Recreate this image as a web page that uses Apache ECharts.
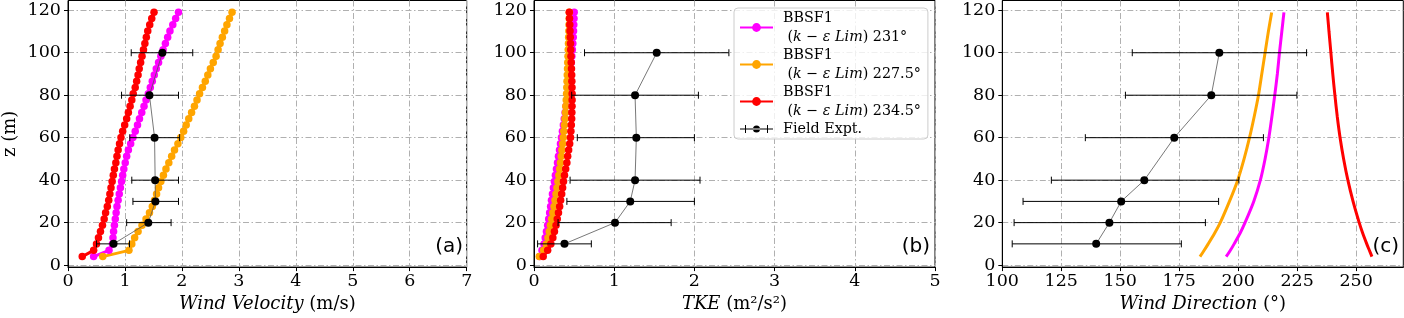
<!DOCTYPE html>
<html><head><meta charset="utf-8">
<script src="https://cdn.jsdelivr.net/npm/echarts@6/dist/echarts.min.js"></script>
<style>html,body{margin:0;padding:0;background:#fff}#c{width:1404px;height:318px}</style>
</head><body><div id="c"></div>
<script>
// ---- data ----
const zLevels = [4.0, 6.95, 9.9, 12.85, 15.8, 18.75, 21.7, 24.65, 27.6, 30.55, 33.5, 36.45, 39.4, 42.35, 45.3, 48.25, 51.2, 54.15, 57.1, 60.05, 63.0, 65.95, 68.9, 71.85, 74.8, 77.75, 80.7, 83.65, 86.6, 89.55, 92.5, 95.45, 98.4, 101.35, 104.3, 107.25, 110.2, 113.15, 116.1, 119.05];
const velMagenta = [0.45,0.72,0.78,0.79,0.80,0.815,0.83,0.845,0.86,0.88,0.90,0.92,0.94,0.96,0.98,1.005,1.03,1.06,1.10,1.14,1.18,1.22,1.255,1.295,1.335,1.37,1.41,1.445,1.48,1.515,1.55,1.59,1.63,1.67,1.71,1.75,1.79,1.84,1.89,1.94];
const velOrange = [0.61,1.07,1.12,1.17,1.23,1.30,1.37,1.43,1.48,1.52,1.555,1.59,1.63,1.675,1.72,1.77,1.82,1.87,1.93,1.98,2.03,2.075,2.12,2.17,2.22,2.265,2.31,2.36,2.41,2.455,2.50,2.55,2.60,2.635,2.67,2.71,2.75,2.79,2.835,2.88];
const velRed = [0.25,0.45,0.50,0.535,0.57,0.605,0.635,0.66,0.69,0.715,0.735,0.755,0.775,0.795,0.815,0.84,0.86,0.88,0.905,0.93,0.96,0.995,1.03,1.06,1.09,1.12,1.145,1.18,1.205,1.23,1.25,1.275,1.30,1.325,1.35,1.375,1.40,1.435,1.47,1.51];
const tkeMagenta = [0.07,0.10,0.125,0.14,0.155,0.17,0.183,0.195,0.207,0.218,0.23,0.242,0.254,0.267,0.28,0.293,0.305,0.318,0.33,0.342,0.354,0.366,0.377,0.388,0.399,0.41,0.42,0.43,0.44,0.449,0.457,0.465,0.472,0.478,0.484,0.489,0.493,0.496,0.499,0.501];
const tkeOrange = [0.066,0.12,0.155,0.175,0.19,0.205,0.22,0.235,0.25,0.262,0.274,0.286,0.298,0.31,0.32,0.33,0.34,0.348,0.357,0.365,0.372,0.379,0.386,0.392,0.397,0.402,0.406,0.409,0.412,0.415,0.418,0.421,0.424,0.427,0.43,0.432,0.435,0.437,0.439,0.441];
const tkeRed = [0.115,0.17,0.21,0.235,0.255,0.275,0.29,0.305,0.32,0.332,0.345,0.357,0.368,0.38,0.395,0.41,0.42,0.432,0.445,0.455,0.46,0.465,0.47,0.472,0.474,0.475,0.475,0.474,0.472,0.47,0.467,0.464,0.461,0.458,0.455,0.452,0.449,0.446,0.443,0.44];
const zCurve = [4, 7, 10, 15, 20, 30, 40, 50, 60, 70, 80, 90, 100, 110, 119];
const dirMagenta = [194.9,196.7,198.3,200.8,202.9,206.6,209.4,211.4,213.0,214.3,215.5,216.6,217.5,218.5,219.4];
const dirOrange = [183.8,185.6,187.3,190.0,192.4,196.3,199.8,202.5,204.8,206.8,208.6,210.0,211.4,212.8,214.2];
const dirRed = [256.7,255.6,254.5,252.8,251.3,248.7,246.5,244.7,243.2,242.0,241.0,240.1,239.3,238.5,237.8];
const zField = [10, 20, 30, 40, 60, 80, 100];
const velField = [0.80, 1.41, 1.535, 1.53, 1.52, 1.43, 1.657];
const velLo = [0.50, 1.03, 1.14, 1.12, 1.085, 0.94, 1.11];
const velHi = [1.08, 1.81, 1.94, 1.94, 1.96, 1.94, 2.19];
const tkeField = [0.38, 1.01, 1.20, 1.26, 1.276, 1.26, 1.53];
const tkeLo = [0.045, 0.30, 0.41, 0.45, 0.54, 0.47, 0.63];
const tkeHi = [0.715, 1.71, 2.0, 2.07, 2.0, 2.05, 2.43];
const dirField = [139.8, 145.4, 150.4, 160.2, 172.9, 188.6, 192.0];
const dirLo = [104.2, 105.0, 108.8, 120.8, 135.2, 152.2, 155.1];
const dirHi = [175.9, 186.1, 191.7, 200.3, 210.7, 224.9, 229.0];
const yTicks = [0, 20, 40, 60, 80, 100, 120];
const xTicksA = [0, 1, 2, 3, 4, 5, 6, 7];
const xTicksB = [0, 1, 2, 3, 4, 5];
const xTicksC = [100, 125, 150, 175, 200, 225, 250];
const legendAngles = ['231', '227.5', '234.5'];
const seriesKeys = ['m', 'o', 'r'];
const colors = {m: '#ff00ff', o: '#ffa500', r: '#ff0000'};

// ---- chart ----
const SERIF = 'DejaVu Serif';
const TICK_FS = 17.5, NAME_FS = 18;
const chart = echarts.init(document.getElementById('c'), null, {renderer: 'canvas'});
const grids = [
  {left: 66.7, top: 0.5, width: 400, height: 267.2},
  {left: 534, top: 0.5, width: 401, height: 267.2},
  {left: 1002.3, top: 0.5, width: 401, height: 267.2}
].map(g => Object.assign({show: true, borderColor: '#000', borderWidth: 1, containLabel: false}, g));

const gridLine = {show: true, lineStyle: {color: '#b0b0b0', width: 1, type: [6, 2.5, 1.5, 2.5]}};
const rich = {
  i: {fontFamily: SERIF, fontStyle: 'italic', fontSize: NAME_FS, color: '#000'},
  n: {fontFamily: SERIF, fontSize: NAME_FS, color: '#000'}
};
function xAx(idx, min, max, ticks, name) {
  return {gridIndex: idx, type: 'value', min, max,
    axisLine: {show: true, onZero: false, lineStyle: {color: '#000'}},
    axisTick: {show: true, length: 4, customValues: ticks, lineStyle: {color: '#000'}},
    axisLabel: {customValues: ticks, margin: 5, fontFamily: SERIF, fontSize: TICK_FS, color: '#000'},
    splitLine: gridLine,
    name, nameLocation: 'middle', nameGap: 27, nameTextStyle: {rich}};
}
function yAx(idx, withName) {
  return {gridIndex: idx, type: 'value', min: -0.94, max: 124.6,
    axisLine: {show: true, onZero: false, lineStyle: {color: '#000'}},
    axisTick: {show: true, length: 4, customValues: yTicks, lineStyle: {color: '#000'}},
    axisLabel: {customValues: yTicks, margin: 7, fontFamily: SERIF, fontSize: TICK_FS, color: '#000'},
    splitLine: gridLine,
    name: withName ? 'z (m)' : '', nameLocation: 'middle', nameGap: 49, nameRotate: 90,
    nameTextStyle: {fontFamily: SERIF, fontSize: NAME_FS, color: '#000'}};
}

function modelSeries(idx, key, xs, zs, sym) {
  return {type: 'line', name: key, xAxisIndex: idx, yAxisIndex: idx,
    data: xs.map((x, i) => [x, zs[i]]),
    symbol: sym ? 'circle' : 'none', showSymbol: sym, symbolSize: 7.5,
    smooth: sym ? false : 0.25,
    lineStyle: {color: colors[key], width: 3}, itemStyle: {color: colors[key]},
    z: 2, animation: false, silent: true};
}
function fieldSeries(idx, xs) {
  return {type: 'line', name: 'Field Expt.', xAxisIndex: idx, yAxisIndex: idx,
    data: xs.map((x, i) => [x, zField[i]]),
    symbol: 'circle', symbolSize: 8,
    lineStyle: {color: '#555', width: 0.8}, itemStyle: {color: '#000'},
    z: 6, animation: false, silent: true};
}
function errSeries(idx, lo, hi) {
  return {type: 'custom', xAxisIndex: idx, yAxisIndex: idx, z: 5, silent: true, animation: false,
    data: zField.map((z, i) => [lo[i], hi[i], z]),
    encode: {x: [0, 1], y: 2},
    renderItem: (params, api) => {
      const a = api.coord([api.value(0), api.value(2)]);
      const b = api.coord([api.value(1), api.value(2)]);
      const h = 3.5, st = {stroke: '#000', lineWidth: 1};
      return {type: 'group', children: [
        {type: 'line', shape: {x1: a[0], y1: a[1], x2: b[0], y2: b[1]}, style: st},
        {type: 'line', shape: {x1: a[0], y1: a[1] - h, x2: a[0], y2: a[1] + h}, style: st},
        {type: 'line', shape: {x1: b[0], y1: b[1] - h, x2: b[0], y2: b[1] + h}, style: st}
      ]};
    }};
}

const velSets = {m: velMagenta, o: velOrange, r: velRed};
const tkeSets = {m: tkeMagenta, o: tkeOrange, r: tkeRed};
const dirSets = {m: dirMagenta, o: dirOrange, r: dirRed};
const series = [];
seriesKeys.forEach(k => series.push(modelSeries(0, k, velSets[k], zLevels, true)));
series.push(errSeries(0, velLo, velHi), fieldSeries(0, velField));
seriesKeys.forEach(k => series.push(modelSeries(1, k, tkeSets[k], zLevels, true)));
series.push(errSeries(1, tkeLo, tkeHi), fieldSeries(1, tkeField));
seriesKeys.forEach(k => series.push(modelSeries(2, k, dirSets[k], zCurve, false)));
series.push(errSeries(2, dirLo, dirHi), fieldSeries(2, dirField));

const fieldIcon = 'path://M0,5 L33,5 L33,6 L0,6 Z M5,1.5 L6,1.5 L6,9.5 L5,9.5 Z M27,1.5 L28,1.5 L28,9.5 L27,9.5 Z M13,5.5 A3.5,3.5 0 1 0 20,5.5 A3.5,3.5 0 1 0 13,5.5 Z';

const lrich = {
  n: {fontFamily: SERIF, fontSize: 14.3, color: '#000', lineHeight: 19},
  i: {fontFamily: SERIF, fontStyle: 'italic', fontSize: 14.3, color: '#000', lineHeight: 19}
};

chart.setOption({
  animation: false,
  grid: grids,
  xAxis: [
    xAx(0, 0, 7, xTicksA, '{i|Wind Velocity}{n| (m/s)}'),
    xAx(1, 0, 5, xTicksB, '{i|TKE}{n| (m²/s²)}'),
    xAx(2, 100, 270, xTicksC, '{i|Wind Direction}{n| (°)}')
  ],
  yAxis: [yAx(0, true), yAx(1, false), yAx(2, false)],
  legend: {
    orient: 'vertical', left: 734, top: 8, padding: [3, 7, 3, 5], itemGap: 4,
    itemWidth: 33, itemHeight: 11,
    backgroundColor: 'rgba(255,255,255,0.8)', borderColor: '#cccccc', borderWidth: 1, borderRadius: 4,
    data: [{name: 'm'}, {name: 'o'}, {name: 'r'}, {name: 'Field Expt.', icon: fieldIcon}],
    formatter: name => {
      const idx = seriesKeys.indexOf(name);
      if (idx < 0) return '{n|' + name + '}';
      return '{n|BBSF1}\n{n| (}{i|k}{n| − }{i|ε Lim}{n|) ' + legendAngles[idx] + '°}';
    },
    textStyle: {rich: lrich, padding: [0, 0, 0, 5]},
    selectedMode: false
  },
  graphic: [
    {type: 'text', right: 1404 - 463, top: 237, style: {text: '(a)', font: '20px "DejaVu Sans"', fill: '#000'}},
    {type: 'text', right: 1404 - 930, top: 237, style: {text: '(b)', font: '20px "DejaVu Sans"', fill: '#000'}},
    {type: 'text', right: 1404 - 1399, top: 237, style: {text: '(c)', font: '20px "DejaVu Sans"', fill: '#000'}}
  ],
  series
});
</script>
</body></html>
